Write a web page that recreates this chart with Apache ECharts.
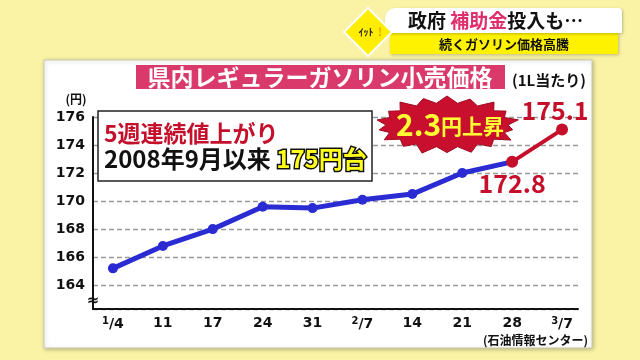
<!DOCTYPE html>
<html><head><meta charset="utf-8">
<script src="https://cdn.jsdelivr.net/npm/echarts@6/dist/echarts.min.js"></script>
<style>html,body{margin:0;padding:0;background:#faf3a6}#c{width:640px;height:360px}</style>
</head><body><div id="c"></div>
<script>
// ---- data ----
const dates = ['1/4','11','17','24','31','2/7','14','21','28','3/7'];
const prices = [165.2,166.8,168.0,169.6,169.5,170.1,170.5,172.0,172.8,175.1];
const blueCount = 9;          // 1/4 .. 2/28 (blue segment)
const redStart = 8;           // 2/28 .. 3/7 (red segment)
const yMin = 162.3, yMax = 176;
const chartTitle = '県内レギュラーガソリン小売価格';
const unitNote = '(1L当たり)';
const yUnit = '(円)';
const source = '(石油情報センター)';
const note1 = '5週連続値上がり';
const note2a = '2008年9月以来 ';
const note2b = '175円台';
const burstA = '2.3', burstB = '円上昇';
const head1a = '政府 ', head1b = '補助金', head1c = '投入も…';
const head2 = '続くガソリン価格高騰';

const CJK = '"Noto Sans CJK JP", "Noto Sans", sans-serif';
const NUM = '"DejaVu Sans", Verdana, sans-serif';
const RED = '#c5102c', BLUE = '#2b2bd3';

const blueData = prices.slice(0, blueCount).map((v, i) => [i, v]);
const redData = prices.slice(redStart).map((v, k) => {
  const i = redStart + k;
  return {
    value: [i, v],
    label: k === 0 ? { position: 'bottom', distance: 3 } : { position: 'top', distance: 1, offset: [-7, 0] }
  };
});

// starburst decoration
function burst(cx, cy, rxo, ryo, rxi, ryi, n) {
  const jitter = [1, 0.95, 1.03, 0.96, 1.02, 0.94, 1.04, 0.97, 1, 0.95, 1.03, 0.96, 1.02, 0.97, 1, 0.95, 1.03, 0.97];
  const pts = [];
  for (let k = 0; k < n * 2; k++) {
    const a = Math.PI * 2 * k / (n * 2) - Math.PI / 2;
    const out = k % 2 === 0;
    const j = out ? jitter[(k / 2) % jitter.length] : 1;
    const rx = out ? rxo * j : rxi, ry = out ? ryo * j : ryi;
    pts.push([cx + rx * Math.cos(a), cy + ry * Math.sin(a)]);
  }
  return pts;
}

const chart = echarts.init(document.getElementById('c'), null, { renderer: 'canvas' });
chart.setOption({
  backgroundColor: '#faf3a6',
  animation: false,
  grid: { left: 93, right: 62, top: 117, bottom: 51, containLabel: false },
  xAxis: {
    type: 'value', min: -0.4, max: 9.32, splitNumber: 10,
    axisLine: { show: true, onZero: false, lineStyle: { color: '#111', width: 2 } },
    axisTick: { show: false }, splitLine: { show: false },
    axisLabel: {
      margin: 7, showMinLabel: false, showMaxLabel: false,
      formatter: v => {
        if (!Number.isInteger(v) || v < 0 || v >= dates.length) return '';
        const s = dates[v];
        if (s.indexOf('/') >= 0) { const p = s.split('/'); return '{sup|' + p[0] + '}{n|/' + p[1] + '}'; }
        return '{n|' + s + '}';
      },
      rich: {
        n: { fontFamily: NUM, fontWeight: 'bold', fontSize: 14, color: '#111' },
        sup: { fontFamily: NUM, fontWeight: 'bold', fontSize: 10, color: '#111', padding: [0, 0, 7, 0] }
      }
    }
  },
  yAxis: {
    type: 'value', min: yMin, max: yMax, splitNumber: 7,
    axisLine: { show: true, onZero: false, lineStyle: { color: '#111', width: 2 } },
    axisTick: { show: false },
    splitLine: { show: true, lineStyle: { color: '#9a9a9a', type: [5, 3], width: 1.3 } },
    axisLabel: { showMinLabel: false, margin: 8, fontFamily: NUM, fontWeight: 'bold', fontSize: 14, color: '#111' }
  },
  series: [
    {
      type: 'line', data: blueData, z: 3,
      symbol: 'circle', symbolSize: 10,
      lineStyle: { color: BLUE, width: 5 }, itemStyle: { color: BLUE }
    },
    {
      type: 'line', data: redData, z: 4,
      symbol: 'circle', symbolSize: 12,
      lineStyle: { color: RED, width: 4 }, itemStyle: { color: RED },
      label: { show: true, formatter: p => p.value[1].toFixed(1), fontFamily: CJK, fontWeight: 'bold', fontSize: 25, color: RED }
    }
  ],
  graphic: [
    // white panel
    { type: 'rect', z: -10, shape: { x: 44, y: 60, width: 548, height: 288 },
      style: { fill: '#fff', stroke: '#c9c9b0', lineWidth: 1, shadowBlur: 4, shadowColor: 'rgba(0,0,0,0.25)', shadowOffsetX: 1, shadowOffsetY: 1 } },
    // title
    { type: 'rect', z: 10, shape: { x: 136, y: 65, width: 369, height: 24 }, style: { fill: '#d93a6b' } },
    { type: 'text', z: 11, style: { x: 320, y: 77, text: chartTitle, fill: '#fff', font: 'bold 23px ' + CJK, align: 'center', verticalAlign: 'middle' } },
    { type: 'text', z: 11, style: { x: 512, y: 80, text: unitNote, fill: '#111', font: 'bold 15px ' + CJK, align: 'left', verticalAlign: 'middle' } },
    { type: 'text', z: 11, style: { x: 76, y: 99, text: yUnit, fill: '#111', font: 'bold 12px ' + CJK, align: 'center', verticalAlign: 'middle' } },
    // axis break mark
    { type: 'text', z: 11, style: { x: 93, y: 301, text: '≈', fill: '#111', font: 'bold 15px ' + NUM, align: 'center', verticalAlign: 'middle' } },
    // source
    { type: 'text', z: 11, style: { x: 588, y: 340, text: source, fill: '#111', font: 'bold 12px ' + CJK, align: 'right', verticalAlign: 'middle' } },
    // note box
    { type: 'rect', z: 20, shape: { x: 98, y: 111, width: 274, height: 70 }, style: { fill: '#fff', stroke: '#222', lineWidth: 1.5 } },
    { type: 'text', z: 21, style: { x: 104, y: 133, text: note1, fill: RED, font: 'bold 23px ' + CJK, align: 'left', verticalAlign: 'middle' } },
    { type: 'text', z: 21, style: {
        x: 104, y: 159, align: 'left', verticalAlign: 'middle',
        text: '{a|' + note2a + '}{b|' + note2b + '}',
        rich: {
          a: { fill: '#111', fontFamily: CJK, fontWeight: 'bold', fontSize: 24 },
          b: { fill: '#ffff1a', fontFamily: CJK, fontWeight: 'bold', fontSize: 24, stroke: '#111', lineWidth: 3 }
        }
    } },
    // burst
    { type: 'polygon', z: 20, shape: { points: burst(447, 125, 71, 29, 61, 22, 18) }, style: { fill: '#c8102e', stroke: '#a00c22', lineWidth: 1 } },
    { type: 'text', z: 21, style: {
        x: 450, y: 125, align: 'center', verticalAlign: 'middle',
        text: '{a|' + burstA + '}{b|' + burstB + '}',
        rich: {
          a: { fill: '#ffff33', fontFamily: CJK, fontWeight: 'bold', fontSize: 30 },
          b: { fill: '#ffff33', fontFamily: CJK, fontWeight: 'bold', fontSize: 21, padding: [3, 0, 0, 0] }
        }
    } },
    // header
    { type: 'rect', z: 30, shape: { x: 390, y: 33, width: 228, height: 21 }, style: { fill: '#fff200', shadowBlur: 3, shadowColor: 'rgba(0,0,0,0.25)', shadowOffsetX: 1, shadowOffsetY: 1 } },
    { type: 'rect', z: 31, shape: { x: 385, y: 8, width: 237, height: 25, r: [10, 4, 0, 0] }, style: { fill: '#fff', shadowBlur: 3, shadowColor: 'rgba(0,0,0,0.25)', shadowOffsetX: 1, shadowOffsetY: 1 } },
    { type: 'text', z: 32, style: {
        x: 408, y: 21, align: 'left', verticalAlign: 'middle',
        text: '{a|' + head1a + '}{b|' + head1b + '}{a|' + head1c + '}',
        rich: {
          a: { fill: '#111', fontFamily: CJK, fontWeight: 'bold', fontSize: 19 },
          b: { fill: '#e0306c', fontFamily: CJK, fontWeight: 'bold', fontSize: 19 }
        }
    } },
    { type: 'text', z: 32, style: { x: 504, y: 44, text: head2, fill: '#111', font: 'bold 13px ' + CJK, align: 'center', verticalAlign: 'middle' } },
    { type: 'polygon', z: 33, shape: { points: [[368, 8], [392, 32], [368, 56], [344, 32]] }, style: { fill: '#ffee00', stroke: '#fff', lineWidth: 2 } },
    { type: 'text', z: 34, style: { x: 366, y: 32, text: 'ｲｯﾄ', fill: '#222', font: 'bold 10px ' + CJK, align: 'center', verticalAlign: 'middle' } },
    { type: 'text', z: 34, style: { x: 380, y: 32, text: '!', fill: '#f0a000', font: 'bold 11px ' + CJK, align: 'center', verticalAlign: 'middle' } }
  ]
});
</script></body></html>
